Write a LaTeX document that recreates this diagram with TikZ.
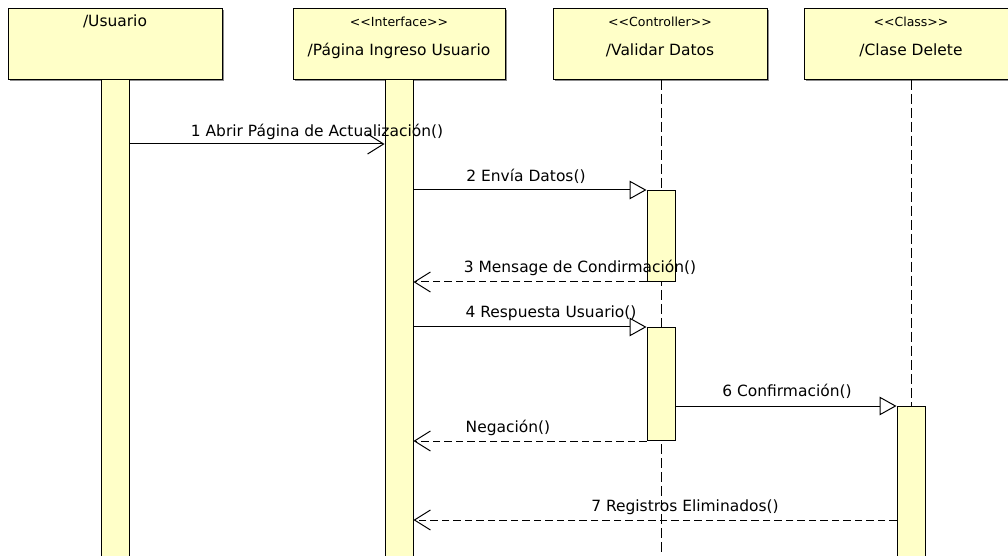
\documentclass[tikz,border=0pt]{standalone}
\usepackage{fontspec}
\setmainfont{DejaVu Sans}
\usetikzlibrary{arrows.meta}
\definecolor{boxfill}{HTML}{FFFFC8}
\definecolor{shadowc}{HTML}{8C8C8C}
\begin{document}
\begin{tikzpicture}[x=0.75pt,y=-0.75pt,line width=0.75pt,
  hdr/.style={draw=black,fill=boxfill,minimum width=160.5pt,minimum height=53.25pt,inner sep=0pt,anchor=north},
  bar/.style={draw=black,fill=boxfill,minimum width=21pt,inner sep=0pt,anchor=north},
  lbl/.style={anchor=base,inner sep=0pt,font=\fontsize{11.6}{14}\selectfont},
  stereo/.style={anchor=base,inner sep=0pt,font=\fontsize{9.4}{11}\selectfont},
  lifeline/.style={dash pattern=on 7.5pt off 3pt},
  call/.style={-{Triangle[open,length=12.75pt,width=14pt]}},
  reply/.style={dash pattern=on 5.6pt off 3pt,-{Straight Barb[length=12pt,width=15pt]}},
  sync/.style={-{Straight Barb[length=12pt,width=15pt]}}]
\useasboundingbox (0,0) rectangle (1008,556);
\clip (0,0) rectangle (1008,556);
% shadows
\fill[shadowc] (10,10) rectangle (224,81);
\fill[shadowc] (295,10) rectangle (507,81);
\fill[shadowc] (555,10) rectangle (769,81);
\fill[shadowc] (806,10) rectangle (1020,81);
% header boxes
\node[hdr] (hU) at (115,8) {};
\node[hdr,minimum width=159pt] (hI) at (399,8) {};
\node[hdr] (hC) at (660,8) {};
\node[hdr] (hD) at (911,8) {};
\node[lbl] (tU) at (115,27) {/Usuario};
\node[stereo] (sI) at (399,27) {<{}<Interface>{}>};
\node[lbl] (tI) at (399,56) {/Página Ingreso Usuario};
\node[stereo] (sC) at (660,27) {<{}<Controller>{}>};
\node[lbl] (tC) at (660,56) {/Validar Datos};
\node[stereo] (sD) at (911,27) {<{}<Class>{}>};
\node[lbl] (tD) at (911,56) {/Clase Delete};
% lifelines
\coordinate (eC) at (661,560);
\coordinate (eD) at (911,560);
\draw[lifeline] (hC.south -| eC) -- (eC);
\draw[lifeline] (hD.south -| eD) -- (eD);
% activation bars
\node[bar,minimum height=360.75pt] (uB) at (115,79) {};
\node[bar,minimum height=360.75pt] (iB) at (399,79) {};
\node[bar,minimum height=68.25pt] (cB1) at (661,190) {};
\node[bar,minimum height=84.75pt] (cB2) at (661,327) {};
\node[bar,minimum height=115.5pt] (dB) at (911,406) {};
% messages
\draw[sync] (uB.east |- 0,144) -- (iB.west |- 0,144);
\draw[call] (iB.east |- cB1.north) -- (cB1.north west);
\draw[reply] (cB1.south west) -- (iB.east |- cB1.south);
\draw[call] (iB.east |- cB2.north) -- (cB2.north west);
\draw[call] (cB2.east |- dB.north) -- (dB.north west);
\draw[reply] (cB2.south west) -- (iB.east |- cB2.south);
\draw[reply] (dB.west |- 0,520) -- (iB.east |- 0,520);
% labels
\node[lbl] (l1) at (317,137) {1 Abrir Página de Actualización()};
\node[lbl] (l2) at (526,182) {2 Envía Datos()};
\node[lbl] (l3) at (580,273) {3 Mensage de Condirmación()};
\node[lbl] (l4) at (551,318) {4 Respuesta Usuario()};
\node[lbl] (l6) at (787,397) {6 Confirmación()};
\node[lbl] (l5) at (508,432) {Negación()};
\node[lbl] (l7) at (685,511) {7 Registros Eliminados()};
\end{tikzpicture}
\end{document}
